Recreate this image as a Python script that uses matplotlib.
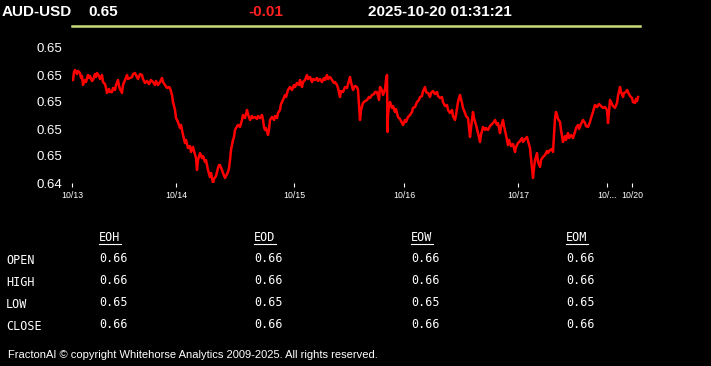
import numpy as np
import matplotlib
matplotlib.use("Agg")
import matplotlib.pyplot as plt

# price trace: compressed trading-time index (weekend removed) and AUD-USD price
t = [1, 2, 3, 5, 6, 8, 9, 10, 11, 13, 14, 16, 17, 18, 20, 21, 23, 24, 25, 27,
     28, 30, 31, 33, 34, 35, 37, 38, 40, 41, 43, 44, 46, 47, 48, 50, 51, 53, 55, 56,
     58, 60, 61, 63, 65, 66, 68, 70, 71, 73, 75, 77, 79, 81, 83, 84, 86, 88, 90, 91,
     93, 95, 97, 98, 100,
     101, 103, 104, 106, 108, 109, 111, 113, 114, 116, 118, 119, 121, 122, 124, 125, 126, 128, 130, 131,
     133, 134, 136, 138, 139, 141, 142, 144, 146, 147, 148, 150, 151, 153, 154, 156, 157, 158, 159, 160,
     161, 162, 163, 164,
     166, 168, 170, 171, 173, 175, 176, 178, 180, 181, 183, 185, 186, 188, 190, 191, 192, 193, 194, 196,
     197, 198, 200, 202, 203, 205, 206, 208, 209, 211, 213, 214, 216, 218, 220, 222, 223, 225, 227, 228,
     230, 231, 233, 235, 236, 238, 240, 241, 243, 245, 246, 248, 250, 252, 253, 255, 256, 258, 260, 262,
     263, 265, 266, 268, 269, 271, 273, 275, 276, 278, 279, 281, 283, 285, 286, 288, 289, 291, 293, 295,
     297, 298, 300, 302, 303, 305, 306, 307, 308, 310, 311, 313, 314, 315, 315.5, 316, 317, 318, 320, 321,
     323, 324, 326, 328, 329, 331, 333, 334, 336, 338, 340, 341, 343, 345, 347, 348, 350, 351, 353, 354,
     356, 358, 359, 361, 363, 365, 366, 368, 370, 371, 373, 375, 376, 378, 380, 381, 383, 384, 386, 387,
     388, 390, 391, 393, 394, 396, 398,
     399, 401, 402, 404, 406, 408, 409, 411, 413, 414, 416, 418, 420, 422, 423, 425, 426, 428, 429, 431,
     432, 434, 436, 437, 439, 441, 443, 444, 446, 448, 450, 451, 453, 455, 456, 458, 459, 461, 462, 463,
     465, 466, 468, 469, 471, 473, 475, 476, 478, 480, 481, 482, 483, 484, 485, 486, 488, 489, 490, 491,
     493, 494, 496, 497, 499, 501, 503, 504, 506, 507, 509, 511, 513, 514, 516, 518, 519, 521, 523, 525,
     527, 529, 531, 533, 535, 536, 537, 538, 540, 541, 543, 545, 546, 548, 549, 551, 552, 554, 555, 557,
     558, 560, 561, 563, 564, 565, 566]
price = [0.65163, 0.65222, 0.65237, 0.65207, 0.65230, 0.65215, 0.65178, 0.65193, 0.65126, 0.65163,
         0.65148, 0.65200, 0.65178, 0.65193, 0.65156, 0.65163, 0.65207, 0.65185, 0.65215, 0.65193,
         0.65170, 0.65200, 0.65148, 0.65133, 0.65104, 0.65067, 0.65096, 0.65074, 0.65074, 0.65104,
         0.65089, 0.65126, 0.65163, 0.65119, 0.65096, 0.65067, 0.65126, 0.65163, 0.65200, 0.65170,
         0.65178, 0.65185, 0.65207, 0.65215, 0.65185, 0.65170, 0.65207, 0.65200, 0.65170, 0.65141,
         0.65156, 0.65133, 0.65163, 0.65148, 0.65126, 0.65156, 0.65126, 0.65148, 0.65178, 0.65148,
         0.65126, 0.65104, 0.65111, 0.65104, 0.65052,
         0.65000, 0.64941, 0.64881, 0.64852, 0.64807, 0.64830, 0.64756, 0.64696, 0.64719, 0.64659,
         0.64674, 0.64630, 0.64667, 0.64637, 0.64585, 0.64496, 0.64570, 0.64622, 0.64585, 0.64600,
         0.64556, 0.64570, 0.64496, 0.64444, 0.64474, 0.64400, 0.64430, 0.64452, 0.64511, 0.64533,
         0.64533, 0.64496, 0.64474, 0.64437, 0.64452, 0.64481, 0.64511, 0.64570, 0.64644, 0.64681,
         0.64719, 0.64741, 0.64793, 0.64807,
         0.64830, 0.64815, 0.64867, 0.64904, 0.64881, 0.64941, 0.64911, 0.64867, 0.64896, 0.64881,
         0.64889, 0.64874, 0.64896, 0.64881, 0.64904, 0.64867, 0.64815, 0.64793, 0.64807, 0.64756,
         0.64793, 0.64867, 0.64889, 0.64867, 0.64896, 0.64881, 0.64919, 0.64941, 0.64985, 0.65015,
         0.65052, 0.65037, 0.65089, 0.65111, 0.65089, 0.65126, 0.65111, 0.65141, 0.65126, 0.65163,
         0.65111, 0.65148, 0.65163, 0.65200, 0.65170, 0.65185, 0.65148, 0.65170, 0.65163, 0.65178,
         0.65156, 0.65170, 0.65148, 0.65178, 0.65163, 0.65200, 0.65170, 0.65185, 0.65163, 0.65141,
         0.65148, 0.65126, 0.65104, 0.65037, 0.65081, 0.65074, 0.65111, 0.65104, 0.65133, 0.65185,
         0.65148, 0.65089, 0.65119, 0.65111, 0.65089, 0.64867, 0.64941, 0.64993, 0.65007, 0.65015,
         0.65037, 0.65030, 0.65052, 0.65059, 0.65074, 0.65074, 0.65044, 0.65015, 0.65111, 0.65089,
         0.65052, 0.65089, 0.65163, 0.65200, 0.64778, 0.64904, 0.64970, 0.65000, 0.64956, 0.64970,
         0.64926, 0.64948, 0.64889, 0.64874, 0.64859, 0.64830, 0.64867, 0.64852, 0.64889, 0.64904,
         0.64926, 0.64956, 0.64963, 0.65000, 0.65015, 0.65037, 0.65044, 0.65081, 0.65111, 0.65074,
         0.65067, 0.65037, 0.65067, 0.65081, 0.65059, 0.65074, 0.65044, 0.65030, 0.65037, 0.65000,
         0.64970, 0.64978, 0.64941, 0.64919, 0.64941, 0.64896, 0.64867, 0.64904, 0.65000, 0.65030,
         0.65052, 0.64993, 0.64956, 0.64919, 0.64896, 0.64881, 0.64741,
         0.64807, 0.64926, 0.64881, 0.64830, 0.64770, 0.64704, 0.64756, 0.64815, 0.64793, 0.64807,
         0.64793, 0.64822, 0.64837, 0.64852, 0.64867, 0.64830, 0.64844, 0.64770, 0.64815, 0.64867,
         0.64822, 0.64756, 0.64681, 0.64719, 0.64674, 0.64689, 0.64630, 0.64667, 0.64696, 0.64711,
         0.64733, 0.64704, 0.64726, 0.64741, 0.64711, 0.64659, 0.64585, 0.64437, 0.64511, 0.64570,
         0.64622, 0.64556, 0.64519, 0.64570, 0.64593, 0.64607, 0.64637, 0.64622, 0.64644, 0.64652,
         0.64630, 0.64756, 0.64881, 0.64926, 0.64904, 0.64874, 0.64852, 0.64793, 0.64748, 0.64704,
         0.64748, 0.64719, 0.64770, 0.64733, 0.64756, 0.64733, 0.64778, 0.64807, 0.64830, 0.64800,
         0.64837, 0.64867, 0.64844, 0.64822, 0.64815, 0.64852, 0.64881, 0.64926, 0.64978, 0.64963,
         0.64985, 0.64970, 0.64956, 0.64963, 0.64941, 0.64844, 0.64926, 0.65015, 0.64985, 0.64970,
         0.64956, 0.64993, 0.65044, 0.65111, 0.65074, 0.65037, 0.65067, 0.65074, 0.65089, 0.65059,
         0.65044, 0.65030, 0.65000, 0.64993, 0.65022, 0.65007, 0.65037]

tick_pos = [0, 104, 222, 332, 446, 535, 560]
tick_lab = ["10/13", "10/14", "10/15", "10/16", "10/17", "10/...", "10/20"]
y_ticks = [0.644, 0.646, 0.648, 0.650, 0.652, 0.654]

symbol = "AUD-USD"
last = "0.65"
change = "-0.01"
stamp = "2025-10-20 01:31:21"

cols = ["EOH", "EOD", "EOW", "EOM"]
rows = ["OPEN", "HIGH", "LOW", "CLOSE"]
vals = [["0.66"] * 4, ["0.66"] * 4, ["0.65"] * 4, ["0.66"] * 4]

W, H = 711, 366
fig = plt.figure(figsize=(W / 100, H / 100), dpi=100, facecolor="black")

ax = fig.add_axes([72 / W, 1 - 183 / H, 568 / W, 135 / H])
ax.set_facecolor("black")
ax.plot(t, price, color="#ff0000", lw=1.8)
ax.set_xlim(0, 568)
ax.set_ylim(0.644, 0.654)
for s in ax.spines.values():
    s.set_visible(False)
ax.set_xticks(tick_pos)
ax.set_xticklabels(tick_lab, fontsize=6.3, color="white", family="Liberation Sans")
ax.tick_params(axis="x", colors="white", length=3, width=0.8, pad=3, labelcolor="white")
ax.set_yticks(y_ticks)
ax.set_yticklabels(["%.2f" % v for v in y_ticks], fontsize=9.5, color="white", family="Liberation Sans")
ax.tick_params(axis="y", length=0, pad=7)

def px(x, y):
    return x / W, 1 - y / H

hdr = dict(fontsize=11, fontweight="bold", family="Liberation Sans", va="center")
fig.text(*px(2, 12), symbol, color="white", **hdr)
fig.text(*px(88, 12), last, color="white", **hdr)
fig.text(*px(248, 12), change, color="#ff2020", **hdr)
fig.text(*px(368, 12), stamp, color="white", **hdr)
fig.add_artist(plt.Line2D([72 / W, 640 / W], [1 - 26 / H] * 2, color="#c8dc78", lw=1.8))

mono = dict(fontsize=8.5, family="DejaVu Sans Mono", color="white", va="center")
col_x = [99, 254, 411, 566]
row_y = [258, 280, 302, 324]
for cx, c in zip(col_x, cols):
    fig.text(*px(cx, 238), c, **mono)
    fig.add_artist(plt.Line2D([cx / W, (cx + 22) / W], [1 - 243.5 / H] * 2, color="white", lw=0.8))
for ry, r, row in zip(row_y, rows, vals):
    fig.text(*px(6, ry + 2), r, **mono)
    for cx, v in zip(col_x, row):
        fig.text(*px(cx, ry), v, **mono)

fig.text(*px(8, 355), "FractonAI \u00a9 copyright Whitehorse Analytics 2009-2025. All rights reserved.",
         color="white", fontsize=8, family=["Liberation Sans Narrow", "Liberation Sans"], va="center")

fig.savefig("out.png", dpi=100, facecolor="black")
